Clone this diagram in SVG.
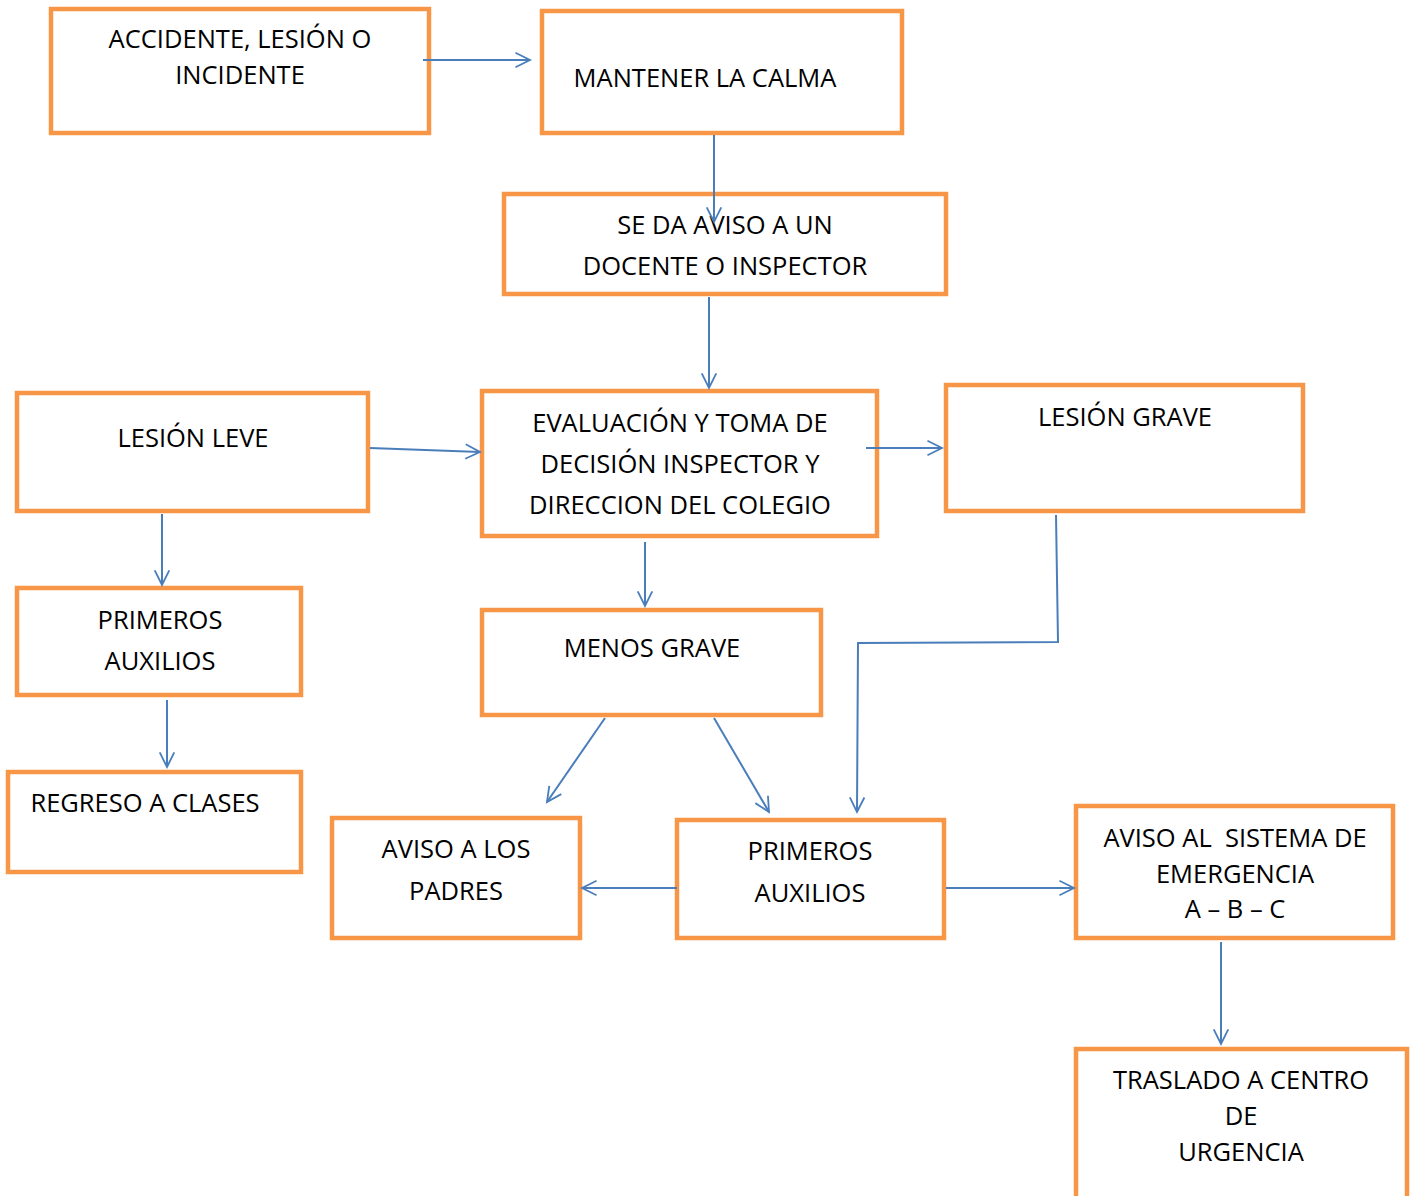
<svg xmlns="http://www.w3.org/2000/svg" width="1412" height="1196" viewBox="0 0 1412 1196">
<style>
.box{fill:#fff;stroke:#F79646;stroke-width:4.5}
.t{font-family:"Open Sans","Liberation Sans",sans-serif;font-size:25.5px;fill:#000;text-anchor:middle}
.c{fill:none;stroke:#4A7EBB;stroke-width:2}
</style>
<defs>
<marker id="a" markerUnits="userSpaceOnUse" markerWidth="20" markerHeight="20" viewBox="-1 -1 22 22" refX="17" refY="9" orient="auto">
<path d="M1,1 L17,9 L1,17" fill="none" stroke="#4A7EBB" stroke-width="2"/>
</marker>
</defs>
<rect width="1412" height="1196" fill="#fff"/>
<g id="n1"><rect class="box" x="51" y="9" width="378" height="124"/><text class="t" x="240" y="48">ACCIDENTE, LESIÓN O</text><text class="t" x="240" y="84">INCIDENTE</text></g>
<g id="n2"><rect class="box" x="542" y="11" width="360" height="122"/><text class="t" x="705" y="87">MANTENER LA CALMA</text></g>
<g id="n3"><rect class="box" x="504" y="194" width="442" height="100"/><text class="t" x="725" y="234">SE DA AVISO A UN</text><text class="t" x="725" y="275">DOCENTE O INSPECTOR</text></g>
<g id="n4"><rect class="box" x="17" y="393" width="351" height="118"/><text class="t" x="193" y="447">LESIÓN LEVE</text></g>
<g id="n5"><rect class="box" x="482" y="391" width="395" height="145"/><text class="t" x="680" y="432">EVALUACIÓN Y TOMA DE</text><text class="t" x="680" y="473">DECISIÓN INSPECTOR Y</text><text class="t" x="680" y="514">DIRECCION DEL COLEGIO</text></g>
<g id="n6"><rect class="box" x="946" y="385" width="357" height="126"/><text class="t" x="1125" y="426">LESIÓN GRAVE</text></g>
<g id="n7"><rect class="box" x="17" y="588" width="284" height="107"/><text class="t" x="160" y="629">PRIMEROS</text><text class="t" x="160" y="670">AUXILIOS</text></g>
<g id="n8"><rect class="box" x="482" y="610" width="339" height="105"/><text class="t" x="652" y="657">MENOS GRAVE</text></g>
<g id="n9"><rect class="box" x="8" y="772" width="293" height="100"/><text class="t" x="145" y="812">REGRESO A CLASES</text></g>
<g id="n10"><rect class="box" x="332" y="818" width="248" height="120"/><text class="t" x="456" y="858">AVISO A LOS</text><text class="t" x="456" y="900">PADRES</text></g>
<g id="n11"><rect class="box" x="677" y="820" width="267" height="118"/><text class="t" x="810" y="860">PRIMEROS</text><text class="t" x="810" y="902">AUXILIOS</text></g>
<g id="n12"><rect class="box" x="1076" y="806" width="317" height="132"/><text class="t" x="1235" y="847" xml:space="preserve">AVISO AL  SISTEMA DE</text><text class="t" x="1235" y="883">EMERGENCIA</text><text class="t" x="1235" y="918">A – B – C</text></g>
<g id="n13"><rect class="box" x="1076" y="1049" width="331" height="160"/><text class="t" x="1241" y="1089">TRASLADO A CENTRO</text><text class="t" x="1241" y="1125">DE</text><text class="t" x="1241" y="1161">URGENCIA</text></g>
<g id="connectors">
<path class="c" d="M423,60 L530,60" marker-end="url(#a)"/>
<path class="c" d="M714,135 L714,222" marker-end="url(#a)"/>
<path class="c" d="M709,297 L709,388" marker-end="url(#a)"/>
<path class="c" d="M370,448 L480,452" marker-end="url(#a)"/>
<path class="c" d="M866,448 L942,448" marker-end="url(#a)"/>
<path class="c" d="M162,514 L162,585" marker-end="url(#a)"/>
<path class="c" d="M645,542 L645,606" marker-end="url(#a)"/>
<path class="c" d="M1056,515 L1058,642 L858,643 L857,812" marker-end="url(#a)"/>
<path class="c" d="M167,700 L167,767" marker-end="url(#a)"/>
<path class="c" d="M605,718 L547,802" marker-end="url(#a)"/>
<path class="c" d="M714,718 L769,812" marker-end="url(#a)"/>
<path class="c" d="M677,888 L582,888" marker-end="url(#a)"/>
<path class="c" d="M946,888 L1074,888" marker-end="url(#a)"/>
<path class="c" d="M1221,942 L1221,1044" marker-end="url(#a)"/>
</g>
</svg>
